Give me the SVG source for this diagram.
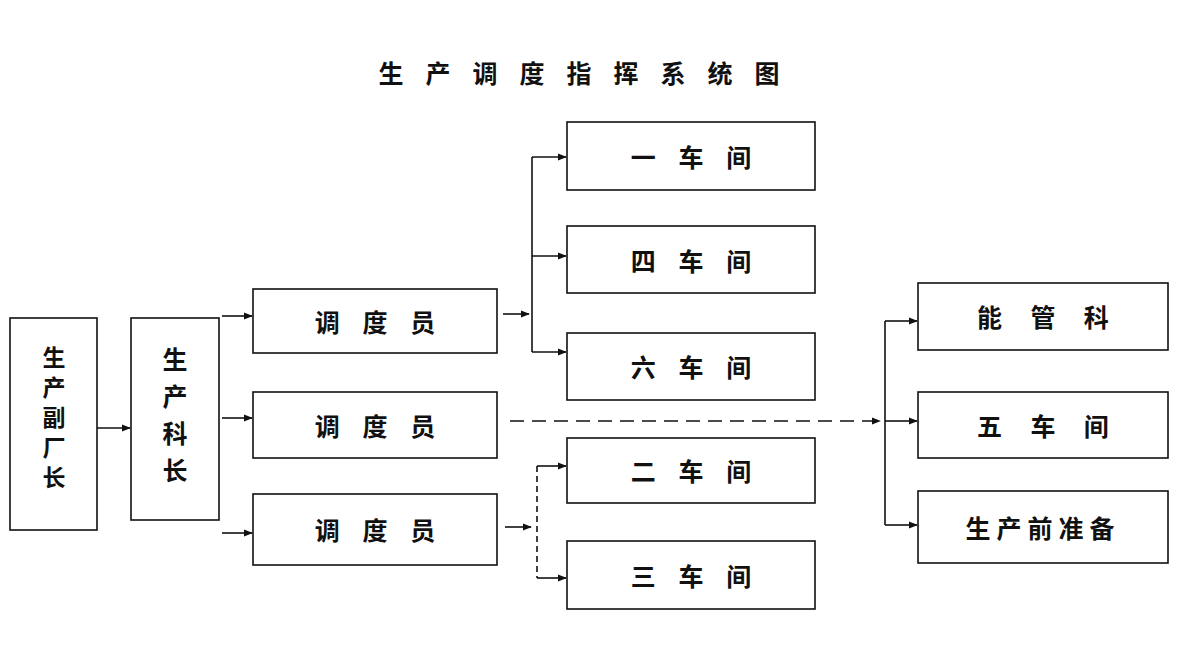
<svg xmlns="http://www.w3.org/2000/svg" width="1180" height="665" viewBox="0 0 1180 665">
<defs>
<style>
.b{fill:none;stroke:#111;stroke-width:1.6}
.c{fill:none;stroke:#111;stroke-width:1.6}
.t{font-family:"Noto Sans CJK SC","Liberation Sans",sans-serif;font-size:25px;font-weight:bold;fill:#111;text-anchor:middle;dominant-baseline:central}
.v{font-size:23px}
.ti{font-family:"Noto Sans CJK SC",sans-serif;font-size:25px;font-weight:bold;fill:#111;text-anchor:middle;dominant-baseline:central}
</style>
<marker id="a" viewBox="0 0 10 10" refX="9" refY="5" markerWidth="9" markerHeight="9" orient="auto" markerUnits="userSpaceOnUse"><path d="M0,1 L10,5 L0,9 Z" fill="#111"/></marker>
</defs>
<rect width="1180" height="665" fill="#fff"/>
<text class="ti" x="590" y="72" style="letter-spacing:22px">生产调度指挥系统图</text>
<g id="n1"><rect class="b" x="10" y="318" width="87" height="212"/><text class="t v" x="54" y="356">生</text><text class="t v" x="54" y="386">产</text><text class="t v" x="54" y="416">副</text><text class="t v" x="54" y="446">厂</text><text class="t v" x="54" y="476">长</text></g>
<g id="n2"><rect class="b" x="131" y="318" width="88" height="202"/><text class="t" x="175" y="358">生</text><text class="t" x="175" y="395">产</text><text class="t" x="175" y="432">科</text><text class="t" x="175" y="469">长</text></g>
<g id="d1"><rect class="b" x="253" y="289" width="244" height="64"/><text class="t" x="375" y="321" xml:space="preserve">调    度    员</text></g>
<g id="d2"><rect class="b" x="253" y="392" width="244" height="66"/><text class="t" x="375" y="425" xml:space="preserve">调    度    员</text></g>
<g id="d3"><rect class="b" x="253" y="494" width="244" height="71"/><text class="t" x="375" y="529" xml:space="preserve">调    度    员</text></g>
<g id="w1"><rect class="b" x="567" y="122" width="248" height="68"/><text class="t" x="691" y="156" xml:space="preserve">一    车    间</text></g>
<g id="w4"><rect class="b" x="567" y="226" width="248" height="67"/><text class="t" x="691" y="260" xml:space="preserve">四    车    间</text></g>
<g id="w6"><rect class="b" x="567" y="333" width="248" height="67"/><text class="t" x="691" y="366" xml:space="preserve">六    车    间</text></g>
<g id="w2"><rect class="b" x="567" y="438" width="248" height="65"/><text class="t" x="691" y="470" xml:space="preserve">二    车    间</text></g>
<g id="w3"><rect class="b" x="567" y="541" width="248" height="68"/><text class="t" x="691" y="575" xml:space="preserve">三    车    间</text></g>
<g id="e1"><rect class="b" x="918" y="283" width="250" height="67"/><text class="t" x="1043" y="316" xml:space="preserve">能     管     科</text></g>
<g id="e2"><rect class="b" x="918" y="392" width="250" height="66"/><text class="t" x="1043" y="425" xml:space="preserve">五     车     间</text></g>
<g id="e3"><rect class="b" x="918" y="491" width="250" height="72"/><text class="t" x="1043" y="527" style="letter-spacing:6px">生产前准备</text></g>
<g id="connectors">
<line class="c" x1="97" y1="428" x2="130" y2="428" marker-end="url(#a)"/>
<line class="c" x1="222" y1="316" x2="252" y2="316" marker-end="url(#a)"/>
<line class="c" x1="222" y1="418" x2="252" y2="418" marker-end="url(#a)"/>
<line class="c" x1="222" y1="533" x2="252" y2="533" marker-end="url(#a)"/>
<line class="c" x1="503" y1="314" x2="529" y2="314" marker-end="url(#a)"/>
<line class="c" x1="532" y1="157" x2="532" y2="352"/>
<line class="c" x1="532" y1="157" x2="566" y2="157" marker-end="url(#a)"/>
<line class="c" x1="532" y1="256" x2="566" y2="256" marker-end="url(#a)"/>
<line class="c" x1="532" y1="352" x2="566" y2="352" marker-end="url(#a)"/>
<line class="c" x1="510" y1="421" x2="880" y2="421" stroke-dasharray="14,8" marker-end="url(#a)"/>
<line class="c" x1="885" y1="321" x2="885" y2="525"/>
<line class="c" x1="885" y1="321" x2="917" y2="321" marker-end="url(#a)"/>
<line class="c" x1="885" y1="421" x2="917" y2="421" marker-end="url(#a)"/>
<line class="c" x1="885" y1="525" x2="917" y2="525" marker-end="url(#a)"/>
<line class="c" x1="505" y1="527" x2="531" y2="527" marker-end="url(#a)"/>
<line class="c" x1="537" y1="466" x2="537" y2="578" stroke-dasharray="6,4"/>
<line class="c" x1="537" y1="466" x2="566" y2="466" marker-end="url(#a)"/>
<line class="c" x1="537" y1="578" x2="566" y2="578" marker-end="url(#a)"/>
</g>
</svg>
